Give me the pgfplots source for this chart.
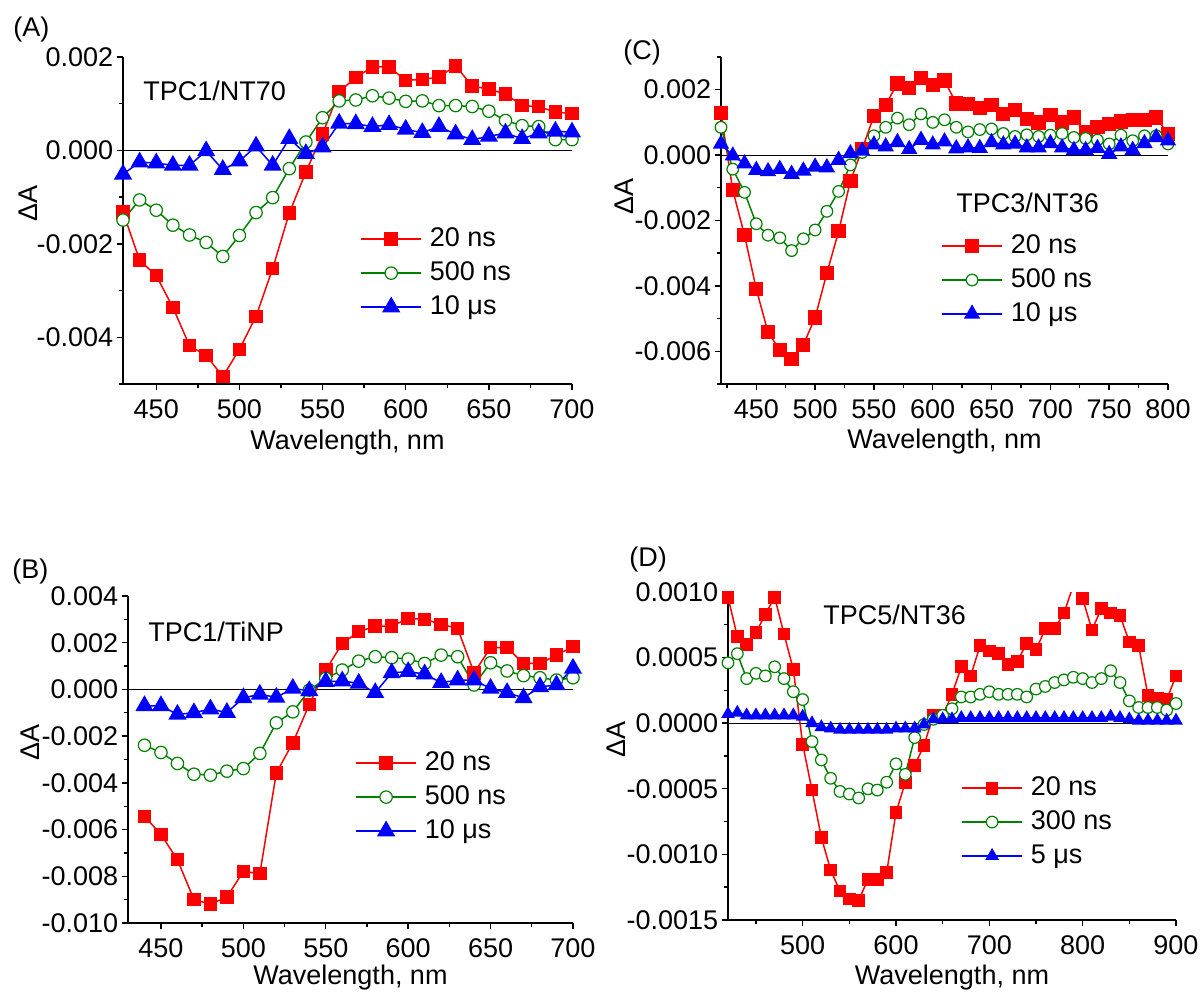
\documentclass[border=0pt]{standalone}
\usepackage{fontspec}
\setmainfont{Liberation Sans}
\usepackage{pgfplots}
\pgfplotsset{compat=1.18}
\usepackage{pgfplotstable}
\newcommand{\ff}{\fontsize{13.5}{16}\selectfont}
\definecolor{cr}{RGB}{255,0,0}
\definecolor{cg}{RGB}{0,128,0}
\definecolor{cb}{RGB}{0,0,255}

% Panel A: TPC1/NT70
\pgfplotstableread{
wl r g b
430 -1.32e-3 -1.49e-3 -0.51e-3
440 -2.35e-3 -1.06e-3 -0.25e-3
450 -2.68e-3 -1.28e-3 -0.27e-3
460 -3.36e-3 -1.60e-3 -0.32e-3
470 -4.18e-3 -1.81e-3 -0.32e-3
480 -4.39e-3 -1.97e-3 -0.01e-3
490 -4.84e-3 -2.27e-3 -0.41e-3
500 -4.26e-3 -1.82e-3 -0.23e-3
510 -3.55e-3 -1.33e-3 0.09e-3
520 -2.53e-3 -1.01e-3 -0.32e-3
530 -1.34e-3 -0.39e-3 0.25e-3
540 -0.46e-3 0.18e-3 -0.07e-3
550 0.35e-3 0.70e-3 0.07e-3
560 1.26e-3 1.06e-3 0.58e-3
570 1.56e-3 1.08e-3 0.57e-3
580 1.79e-3 1.17e-3 0.51e-3
590 1.79e-3 1.12e-3 0.55e-3
600 1.50e-3 1.05e-3 0.45e-3
610 1.52e-3 1.06e-3 0.38e-3
620 1.57e-3 0.96e-3 0.51e-3
630 1.81e-3 0.96e-3 0.35e-3
640 1.38e-3 0.94e-3 0.23e-3
650 1.31e-3 0.84e-3 0.30e-3
660 1.21e-3 0.64e-3 0.37e-3
670 0.96e-3 0.53e-3 0.25e-3
680 0.94e-3 0.51e-3 0.37e-3
690 0.82e-3 0.23e-3 0.41e-3
700 0.79e-3 0.23e-3 0.39e-3
}\dataA

% Panel C: TPC3/NT36
\pgfplotstableread{
wl r g b
420 1.28e-3 0.85e-3 0.34e-3
430 -1.07e-3 -0.43e-3 -0.02e-3
440 -2.45e-3 -1.14e-3 -0.26e-3
450 -4.10e-3 -2.10e-3 -0.46e-3
460 -5.42e-3 -2.45e-3 -0.50e-3
470 -5.96e-3 -2.53e-3 -0.43e-3
480 -6.23e-3 -2.92e-3 -0.58e-3
490 -5.80e-3 -2.56e-3 -0.48e-3
500 -4.97e-3 -2.29e-3 -0.36e-3
510 -3.61e-3 -1.72e-3 -0.38e-3
520 -2.33e-3 -1.11e-3 -0.15e-3
530 -0.79e-3 -0.30e-3 0.05e-3
540 0.18e-3 0.08e-3 0.13e-3
550 1.20e-3 0.59e-3 0.32e-3
560 1.54e-3 0.85e-3 0.26e-3
570 2.19e-3 1.13e-3 0.39e-3
580 2.05e-3 0.93e-3 0.18e-3
590 2.36e-3 1.26e-3 0.46e-3
600 2.15e-3 1.00e-3 0.32e-3
610 2.28e-3 1.08e-3 0.41e-3
620 1.58e-3 0.85e-3 0.20e-3
630 1.56e-3 0.71e-3 0.23e-3
640 1.43e-3 0.78e-3 0.21e-3
650 1.53e-3 0.80e-3 0.39e-3
660 1.26e-3 0.66e-3 0.32e-3
670 1.38e-3 0.57e-3 0.34e-3
680 1.10e-3 0.62e-3 0.23e-3
690 1.00e-3 0.57e-3 0.23e-3
700 1.23e-3 0.61e-3 0.36e-3
710 1.00e-3 0.66e-3 0.23e-3
720 1.15e-3 0.54e-3 0.15e-3
730 0.69e-3 0.51e-3 0.15e-3
740 0.85e-3 0.46e-3 0.21e-3
750 0.95e-3 0.34e-3 0.03e-3
760 1.03e-3 0.61e-3 0.26e-3
770 1.07e-3 0.44e-3 0.15e-3
780 1.07e-3 0.59e-3 0.36e-3
790 1.15e-3 0.59e-3 0.54e-3
800 0.64e-3 0.34e-3 0.44e-3
}\dataC

% Panel B: TPC1/TiNP
\pgfplotstableread{
wl r g b
440 -5.43e-3 -2.39e-3 -0.70e-3
450 -6.21e-3 -2.70e-3 -0.70e-3
460 -7.29e-3 -3.17e-3 -1.07e-3
470 -9.00e-3 -3.63e-3 -1.00e-3
480 -9.19e-3 -3.67e-3 -0.84e-3
490 -8.89e-3 -3.50e-3 -0.99e-3
500 -7.79e-3 -3.39e-3 -0.36e-3
510 -7.89e-3 -2.74e-3 -0.21e-3
520 -3.57e-3 -1.43e-3 -0.34e-3
530 -2.29e-3 -0.96e-3 0.04e-3
540 -0.64e-3 -0.03e-3 -0.06e-3
550 0.83e-3 0.47e-3 0.33e-3
560 1.97e-3 0.83e-3 0.36e-3
570 2.47e-3 1.21e-3 0.26e-3
580 2.71e-3 1.40e-3 -0.14e-3
590 2.71e-3 1.36e-3 0.71e-3
600 3.04e-3 1.30e-3 0.76e-3
610 3.00e-3 1.11e-3 0.66e-3
620 2.79e-3 1.47e-3 0.29e-3
630 2.61e-3 1.40e-3 0.40e-3
640 0.71e-3 0.19e-3 0.40e-3
650 1.79e-3 1.14e-3 0.04e-3
660 1.79e-3 0.79e-3 -0.14e-3
670 1.11e-3 0.59e-3 -0.36e-3
680 1.11e-3 0.50e-3 0.11e-3
690 1.47e-3 0.40e-3 0.19e-3
700 1.83e-3 0.50e-3 0.90e-3
}\dataB

% Panel D: TPC5/NT36
\pgfplotstableread{
wl r g b
420 0.96e-3 0.46e-3 0.07e-3
430 0.66e-3 0.53e-3 0.08e-3
440 0.60e-3 0.34e-3 0.06e-3
450 0.69e-3 0.38e-3 0.06e-3
460 0.83e-3 0.36e-3 0.06e-3
470 0.96e-3 0.43e-3 0.06e-3
480 0.68e-3 0.34e-3 0.06e-3
490 0.41e-3 0.24e-3 0.06e-3
500 -0.16e-3 0.18e-3 0.05e-3
510 -0.51e-3 -0.14e-3 0.00e-3
520 -0.87e-3 -0.28e-3 -0.03e-3
530 -1.12e-3 -0.42e-3 -0.04e-3
540 -1.28e-3 -0.52e-3 -0.05e-3
550 -1.34e-3 -0.54e-3 -0.05e-3
560 -1.35e-3 -0.57e-3 -0.05e-3
570 -1.19e-3 -0.50e-3 -0.05e-3
580 -1.19e-3 -0.51e-3 -0.05e-3
590 -1.14e-3 -0.45e-3 -0.05e-3
600 -0.68e-3 -0.31e-3 -0.04e-3
610 -0.45e-3 -0.39e-3 -0.04e-3
620 -0.32e-3 -0.11e-3 -0.04e-3
630 -0.17e-3 -0.01e-3 -0.01e-3
640 0.06e-3 0.03e-3 0.03e-3
650 0.06e-3 0.06e-3 0.03e-3
660 0.22e-3 0.11e-3 0.03e-3
670 0.43e-3 0.20e-3 0.04e-3
680 0.36e-3 0.20e-3 0.04e-3
690 0.59e-3 0.22e-3 0.04e-3
700 0.55e-3 0.24e-3 0.04e-3
710 0.53e-3 0.22e-3 0.04e-3
720 0.45e-3 0.22e-3 0.04e-3
730 0.47e-3 0.22e-3 0.04e-3
740 0.61e-3 0.20e-3 0.04e-3
750 0.56e-3 0.26e-3 0.04e-3
760 0.72e-3 0.28e-3 0.04e-3
770 0.72e-3 0.31e-3 0.04e-3
780 0.84e-3 0.33e-3 0.04e-3
790 1.05e-3 0.35e-3 0.04e-3
800 0.95e-3 0.34e-3 0.04e-3
810 0.71e-3 0.31e-3 0.04e-3
820 0.875e-3 0.34e-3 0.04e-3
830 0.84e-3 0.40e-3 0.05e-3
840 0.82e-3 0.31e-3 0.04e-3
850 0.62e-3 0.17e-3 0.03e-3
860 0.59e-3 0.12e-3 0.02e-3
870 0.21e-3 0.12e-3 0.02e-3
880 0.19e-3 0.12e-3 0.02e-3
890 0.18e-3 0.10e-3 0.02e-3
900 0.36e-3 0.15e-3 0.02e-3
}\dataD

\pgfplotsset{
  legend image code/.code={\draw[mark repeat=2,mark phase=2,#1] plot coordinates {(0pt,0pt) (15pt,0pt) (30pt,0pt)};},
  panel/.style={
    scale only axis,
    axis lines*=left,
    axis line style={line width=0.8pt},
    tick align=outside,
    major tick length=3.2pt,
    minor tick length=2pt,
    every tick/.style={black, line width=0.7pt},
    tick label style={font=\ff},
    yticklabel style={inner sep=1.5pt},
    label style={font=\ff},
    scaled ticks=false,
    clip=true,
    legend cell align=left,
    legend style={draw=none, fill=none, font=\ff, inner sep=0pt, row sep=3.5pt, nodes={inner sep=1pt},
      /tikz/every odd column/.append style={column sep=3pt}},
    xlabel={Wavelength, nm},
    ylabel={ΔA},
  },
  sred/.style={color=cr, line width=0.75pt, mark=square*, mark size=3pt, mark options={fill=cr, draw=cr, solid}},
  sgreen/.style={color=cg, line width=0.75pt, mark=*, mark size=3.1pt, mark options={fill=white, draw=cg, line width=0.6pt, solid}},
  sblue/.style={color=cb, line width=0.75pt, mark=triangle*, mark size=4.5pt, mark options={fill=cb, draw=cb, solid}},
  zline/.style={black, line width=0.5pt, forget plot},
}

\begin{document}
\ff
\begin{tikzpicture}
\useasboundingbox (0,0) rectangle (600.5pt,498pt);

% ---------- (A) ----------
\begin{axis}[panel,
  at={(61.5pt,306pt)}, anchor=south west,
  width=224.5pt, height=163.5pt,
  xmin=430, xmax=700, ymin=-0.005, ymax=0.002,
  xtick={450,500,550,600,650,700},
  xticklabels={450,500,550,600,650,700},
  minor xtick={475,525,575,625,675},
  ytick={-0.004,-0.002,0,0.002},
  yticklabels={-0.004,-0.002,0.000,0.002},
  minor ytick={-0.005,-0.003,-0.001,0.001},
  xlabel style={at={(axis description cs:0.5,0)}, anchor=center, yshift=-29.5pt},
  ylabel style={at={(axis description cs:-0.212,0.553)}, anchor=center},
  legend style={at={(axis description cs:0.528,0.339)}, anchor=west},
]
\addplot[zline] coordinates {(430,0) (700,0)};
\addplot[sred] table[x=wl, y=r] {\dataA};
\addplot[sgreen] table[x=wl, y=g] {\dataA};
\addplot[sblue] table[x=wl, y=b] {\dataA};
\legend{20 ns, 500 ns, 10 μs}
\end{axis}

% ---------- (C) ----------
\begin{axis}[panel,
  at={(360.5pt,306pt)}, anchor=south west,
  width=223.5pt, height=163.5pt,
  xmin=420, xmax=800, ymin=-0.007, ymax=0.003,
  xtick={450,500,550,600,650,700,750,800},
  xticklabels={450,500,550,600,650,700,750,800},
  minor xtick={425,475,525,575,625,675,725,775},
  ytick={-0.006,-0.004,-0.002,0,0.002},
  yticklabels={-0.006,-0.004,-0.002,0.000,0.002},
  minor ytick={-0.007,-0.005,-0.003,-0.001,0.001,0.003},
  xlabel style={at={(axis description cs:0.5,0)}, anchor=center, yshift=-29pt},
  ylabel style={at={(axis description cs:-0.217,0.572)}, anchor=center},
  legend style={at={(axis description cs:0.492,0.318)}, anchor=west},
]
\addplot[zline] coordinates {(420,0) (800,0)};
\addplot[sred, mark size=3.2pt] table[x=wl, y=r] {\dataC};
\addplot[sgreen, mark size=2.9pt] table[x=wl, y=g] {\dataC};
\addplot[sblue, mark size=4pt] table[x=wl, y=b] {\dataC};
\legend{20 ns, 500 ns, 10 μs}
\end{axis}

% ---------- (B) ----------
\begin{axis}[panel,
  at={(64pt,36.5pt)}, anchor=south west,
  width=222.5pt, height=163.5pt,
  xmin=430, xmax=700, ymin=-0.010, ymax=0.004,
  xtick={450,500,550,600,650,700},
  xticklabels={450,500,550,600,650,700},
  minor xtick={475,525,575,625,675},
  ytick={-0.010,-0.008,-0.006,-0.004,-0.002,0,0.002,0.004},
  yticklabels={-0.010,-0.008,-0.006,-0.004,-0.002,0.000,0.002,0.004},
  minor ytick={-0.009,-0.007,-0.005,-0.003,-0.001,0.001,0.003},
  xlabel style={at={(axis description cs:0.5,0)}, anchor=center, yshift=-27.5pt},
  ylabel style={at={(axis description cs:-0.220,0.553)}, anchor=center},
  legend style={at={(axis description cs:0.510,0.385)}, anchor=west},
]
\addplot[zline] coordinates {(430,0) (700,0)};
\addplot[sred] table[x=wl, y=r] {\dataB};
\addplot[sgreen] table[x=wl, y=g] {\dataB};
\addplot[sblue] table[x=wl, y=b] {\dataB};
\legend{20 ns, 500 ns, 10 μs}
\end{axis}

% ---------- (D) ----------
\begin{axis}[panel,
  at={(364pt,38pt)}, anchor=south west,
  width=224pt, height=164pt,
  xmin=420, xmax=900, ymin=-0.0015, ymax=0.0010,
  xtick={500,600,700,800,900},
  xticklabels={500,600,700,800,900},
  minor xtick={450,550,650,750,850},
  ytick={-0.0015,-0.0010,-0.0005,0,0.0005,0.0010},
  yticklabels={-0.0015,-0.0010,-0.0005,0.0000,0.0005,0.0010},
  minor ytick={-0.00125,-0.00075,-0.00025,0.00025,0.00075},
  xlabel style={at={(axis description cs:0.5,0)}, anchor=center, yshift=-29pt},
  ylabel style={at={(axis description cs:-0.25,0.549)}, anchor=center},
  legend style={at={(axis description cs:0.520,0.299)}, anchor=west},
]
\addplot[zline] coordinates {(420,0) (900,0)};
\addplot[sred, mark size=2.8pt] table[x=wl, y=r] {\dataD};
\addplot[sgreen, mark size=2.9pt] table[x=wl, y=g] {\dataD};
\addplot[sblue, mark size=3.2pt] table[x=wl, y=b] {\dataD};
\legend{20 ns, 300 ns, 5 μs}
\end{axis}

% panel letters and sample names
\node[anchor=west, inner sep=0pt, font=\ff] at (6.5pt,483pt) {(A)};
\node[anchor=west, inner sep=0pt, font=\ff] at (311.5pt,471.5pt) {(C)};
\node[anchor=west, inner sep=0pt, font=\ff] at (6pt,212pt) {(B)};
\node[anchor=west, inner sep=0pt, font=\ff] at (314.5pt,218pt) {(D)};
\node[anchor=west, inner sep=0pt, font=\ff] at (71.5pt,452.5pt) {TPC1/NT70};
\node[anchor=west, inner sep=0pt, font=\ff] at (478pt,396.5pt) {TPC3/NT36};
\node[anchor=west, inner sep=0pt, font=\ff] at (74pt,182pt) {TPC1/TiNP};
\node[anchor=west, inner sep=0pt, font=\ff] at (411.5pt,190.5pt) {TPC5/NT36};
\end{tikzpicture}
\end{document}
